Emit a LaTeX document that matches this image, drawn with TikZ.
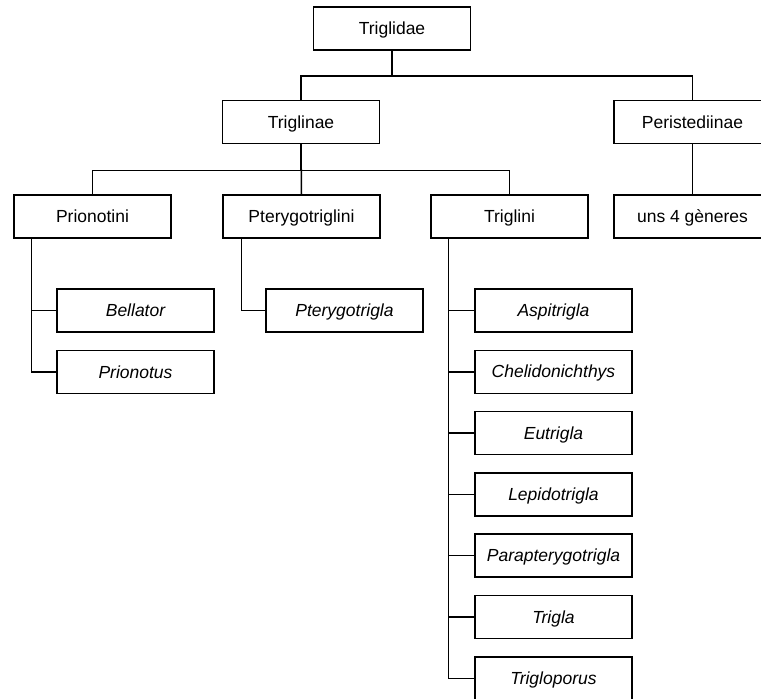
\documentclass[tikz,border=0pt]{standalone}
\usepackage{fontspec}
\setmainfont{Liberation Sans}

\tikzset{
    taxon/.style={draw, line width=1.5pt, minimum width=157pt, minimum height=43pt,
        inner sep=0pt, text height=12pt, text depth=0pt, font=\fontsize{17.5}{20}\selectfont},
    genus/.style={taxon, font=\fontsize{17.5}{20}\selectfont\itshape},
    link/.style={line width=1.5pt}
}

\begin{document}
\begin{tikzpicture}[x=1pt, y=-1pt]
    \useasboundingbox (0,0) rectangle (761,699);
    \clip (0,0) rectangle (761,699);

    % Family and subfamilies
    \node[taxon] (triglidae) at (392,28.5) {Triglidae};
    \node[taxon] (triglinae) at (301,122) {Triglinae};
    \node[taxon] (peristediinae) at (692.5,122) {Peristediinae};

    % Tribes
    \node[taxon] (prionotini) at (92.5,216.5) {Prionotini};
    \node[taxon] (pterygotriglini) at (301.5,216.5) {Pterygotriglini};
    \node[taxon] (triglini) at (509.5,216.5) {Triglini};
    \node[taxon] (unsgeneres) at (692.5,216.5) {uns 4 gèneres};

    % Genera
    \node[genus] (bellator) at (135.5,310.5) {Bellator};
    \node[genus] (prionotus) at (135.5,372) {Prionotus};
    \node[genus] (pterygotrigla) at (344.5,310.5) {Pterygotrigla};
    \node[genus] (aspitrigla) at (553.5,310.5) {Aspitrigla};
    \node[genus] (chelidonichthys) at (553.5,371.8) {Chelidonichthys};
    \node[genus] (eutrigla) at (553.5,433.1) {Eutrigla};
    \node[genus] (lepidotrigla) at (553.5,494.4) {Lepidotrigla};
    \node[genus] (parapterygotrigla) at (553.5,555.7) {Parapterygotrigla};
    \node[genus] (trigla) at (553.5,617) {Trigla};
    \node[genus] (trigloporus) at (553.5,678.3) {Trigloporus};

    % Links between levels
    \draw[link] (triglidae.south) -- ++(0,25) -| (triglinae.north);
    \draw[link] (triglidae.south) -- ++(0,25) -| (peristediinae.north);
    \draw[link] (triglinae.south) -- ++(0,26) -| (prionotini.north);
    \draw[link] (triglinae.south) -- (pterygotriglini.north);
    \draw[link] (triglinae.south) -- ++(0,26) -| (triglini.north);
    \draw[link] (peristediinae.south) -- (unsgeneres.north);

    % Links to genera
    \draw[link] ([xshift=18pt]prionotini.south west) |- (bellator.west);
    \draw[link] ([xshift=18pt]prionotini.south west) |- (prionotus.west);
    \draw[link] ([xshift=19pt]pterygotriglini.south west) |- (pterygotrigla.west);
    \foreach \g in {aspitrigla, chelidonichthys, eutrigla, lepidotrigla,
                    parapterygotrigla, trigla, trigloporus}
        \draw[link] ([xshift=18pt]triglini.south west) |- (\g.west);
\end{tikzpicture}
\end{document}
